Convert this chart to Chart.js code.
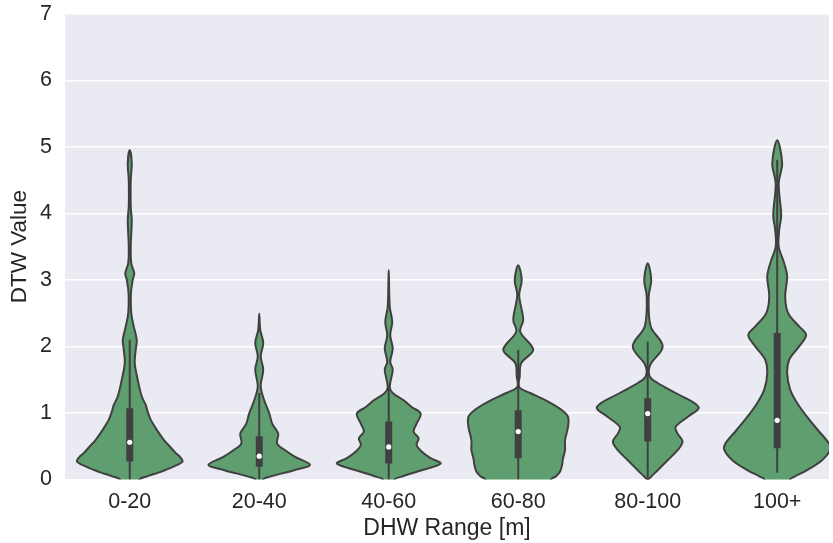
<!DOCTYPE html>
<html>
<head>
<meta charset="utf-8">
<script src="https://cdn.jsdelivr.net/npm/chart.js@4.4.1/dist/chart.umd.min.js"></script>
<style>
  html, body { margin: 0; padding: 0; background: #ffffff; }
  #wrap { width: 833px; height: 543px; position: relative; }
</style>
</head>
<body>
<div id="wrap"><canvas id="c" width="833" height="543"></canvas></div>
<script>
// ---- data ----
const categories = ['0-20', '20-40', '40-60', '60-80', '80-100', '100+'];
const yTicks = [0, 1, 2, 3, 4, 5, 6, 7];

// violin density profiles: value levels and relative density (half-width)
const levels0 = [0, 0.05, 0.1, 0.15, 0.2, 0.27, 0.33, 0.4, 0.5, 0.6, 0.75, 0.9, 1.02, 1.12, 1.25, 1.5, 1.75, 1.95, 2.1, 2.3, 2.5, 2.8, 3.0, 3.1, 3.25, 3.5, 3.9, 4.1, 4.5, 4.75, 4.95];
const dens0   = [10, 18, 28, 37, 45, 53, 51, 46, 40, 34, 27, 21, 18, 16, 12, 8, 5, 6, 7, 4, 1.5, 1.2, 3, 4.5, 1.5, 1, 2, 1, 1, 2, 0];

const levels1 = [0, 0.04, 0.14, 0.22, 0.34, 0.44, 0.54, 0.69, 0.84, 1.0, 1.19, 1.4, 1.65, 1.85, 2.05, 2.25, 2.49];
const dens1   = [4, 10, 35, 51, 36, 26, 18, 19, 13, 10, 5, 1.5, 4, 1.5, 4, 1, 0];

const levels2 = [0, 0.04, 0.14, 0.24, 0.32, 0.42, 0.52, 0.62, 0.72, 0.84, 0.99, 1.09, 1.19, 1.3, 1.39, 1.65, 1.77, 1.97, 2.17, 2.37, 2.6, 3.15];
const dens2   = [6, 12, 33, 52, 42, 33, 28, 30, 25, 28, 32, 23, 15, 4, 1, 4, 1.5, 4, 1.5, 3.5, 1, 0];

const levels3 = [0, 0.05, 0.12, 0.22, 0.32, 0.44, 0.59, 0.79, 0.94, 1.04, 1.17, 1.3, 1.39, 1.55, 1.75, 1.95, 2.22, 2.4, 2.77, 3.0, 3.22];
const dens3   = [33, 38, 42, 44, 45, 47, 47, 50, 50, 44, 30, 12, 1, 1.5, 3, 15, 2, 5, 1, 3.5, 0];

const levels4 = [0, 0.02, 0.14, 0.29, 0.44, 0.57, 0.69, 0.79, 0.94, 1.09, 1.3, 1.45, 1.55, 1.72, 2.0, 2.3, 2.75, 3.0, 3.25];
const dens4   = [1, 2, 10, 20, 30, 35, 30, 28, 40, 51, 28, 10, 2, 2.5, 15, 3, 1, 3.5, 0];

const levels5 = [0, 0.04, 0.14, 0.29, 0.44, 0.54, 0.74, 0.94, 1.15, 1.35, 1.6, 1.8, 2.0, 2.17, 2.3, 2.5, 2.75, 3.05, 3.25, 3.5, 3.75, 3.97, 4.45, 4.75, 5.1];
const dens5   = [13, 17, 30, 45, 53, 52, 41, 30, 20, 13, 10, 12, 22, 29, 22, 11, 8, 10, 7, 1.5, 2, 4, 1.5, 5, 0];

const violinLevels = [levels0, levels1, levels2, levels3, levels4, levels5];
const violinDens = [dens0, dens1, dens2, dens3, dens4, dens5];

// inner box statistics
const q1 = [0.27, 0.19, 0.24, 0.32, 0.57, 0.47];
const medians = [0.56, 0.35, 0.49, 0.72, 0.99, 0.89];
const q3 = [1.07, 0.65, 0.87, 1.04, 1.22, 2.2];
const whiskerLow = [0, 0, 0, 0, 0, 0.1];
const whiskerHigh = [2.1, 1.3, 1.4, 1.95, 2.07, 4.8];

// ---- styling ----
const DENS_SCALE = 130;          // density units per category slot
const FILL = '#5F9E6E';
const EDGE = '#404040';
const BG = '#EAEAF2';
const TEXT = '#262626';
const FONT = "'Liberation Sans', Arial, sans-serif";

function violinPoints(i) {
  const lv = violinLevels[i], d = violinDens[i];
  const pts = [];
  pts.push({ x: i + d[0] / DENS_SCALE, y: lv[0] - 0.15 });
  for (let k = 0; k < lv.length; k++) pts.push({ x: i + d[k] / DENS_SCALE, y: lv[k] });
  for (let k = lv.length - 2; k >= 0; k--) pts.push({ x: i - d[k] / DENS_SCALE, y: lv[k] });
  pts.push({ x: i - d[0] / DENS_SCALE, y: lv[0] - 0.15 });
  return pts;
}

const datasets = [];
categories.forEach((c, i) => {
  datasets.push({
    type: 'line', data: violinPoints(i), order: 3,
    borderColor: EDGE, borderWidth: 2, backgroundColor: FILL,
    fill: 'shape', tension: 0.35, pointRadius: 0, clip: 0
  });
  datasets.push({
    type: 'line', data: [{ x: i, y: whiskerLow[i] }, { x: i, y: whiskerHigh[i] }], order: 2,
    borderColor: EDGE, borderWidth: 2, pointRadius: 0, fill: false
  });
  datasets.push({
    type: 'line', data: [{ x: i, y: q1[i] }, { x: i, y: q3[i] }], order: 1,
    borderColor: EDGE, borderWidth: 7, borderCapStyle: 'butt', pointRadius: 0, fill: false
  });
});
datasets.push({
  type: 'scatter', data: medians.map((m, i) => ({ x: i, y: m })), order: 0,
  pointRadius: 2.6, pointBackgroundColor: '#ffffff', pointBorderWidth: 0, pointBorderColor: '#ffffff'
});

const bgPlugin = {
  id: 'bg',
  beforeDraw(chart) {
    const { ctx, chartArea: a } = chart;
    ctx.save();
    ctx.fillStyle = BG;
    ctx.fillRect(a.left, a.top, a.right - a.left, a.bottom - a.top);
    ctx.restore();
  }
};

new Chart(document.getElementById('c'), {
  type: 'scatter',
  data: { datasets },
  plugins: [bgPlugin],
  options: {
    responsive: false,
    animation: false,
    events: [],
    layout: { padding: { top: 13.7, right: 0, left: 0, bottom: 0 } },
    plugins: { legend: { display: false }, tooltip: { enabled: false } },
    scales: {
      x: {
        type: 'linear', min: -0.5, max: 5.4,
        afterBuildTicks: s => { s.ticks = categories.map((c, i) => ({ value: i })); },
        afterFit: s => { s.height = 63.5; s.paddingLeft = 0; s.paddingRight = 0; },
        grid: { display: false, drawTicks: false },
        border: { display: false },
        ticks: {
          padding: 10, color: TEXT, font: { family: FONT, size: 21.5 },
          callback: v => categories[v]
        },
        title: { display: true, text: 'DHW Range [m]', color: TEXT, font: { family: FONT, size: 23 }, padding: { top: 0, bottom: 1 } }
      },
      y: {
        type: 'linear', min: 0, max: 7,
        afterBuildTicks: s => { s.ticks = yTicks.map(v => ({ value: v })); },
        afterFit: s => { s.width = 65; s.paddingTop = 0; s.paddingBottom = 0; },
        grid: { color: '#ffffff', lineWidth: 1.4, drawTicks: false },
        border: { display: false },
        ticks: { padding: 13, color: TEXT, font: { family: FONT, size: 21.5 } },
        title: { display: true, text: 'DTW Value', color: TEXT, font: { family: FONT, size: 22.5 }, padding: { top: 6, bottom: 0 } }
      }
    }
  }
});
</script>
</body>
</html>
